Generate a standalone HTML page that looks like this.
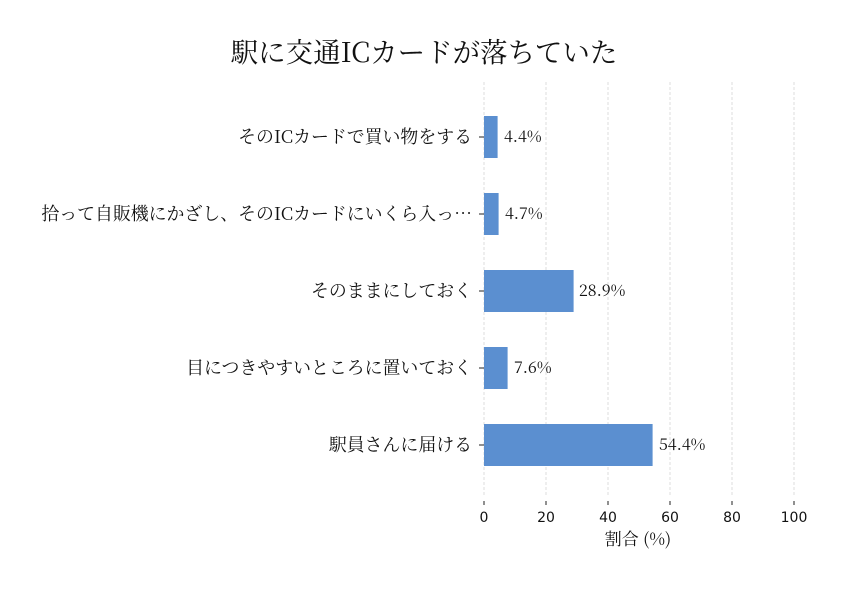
<!DOCTYPE html>
<html><head><meta charset="utf-8"><style>body{margin:0;background:#fff}</style></head><body>
<svg width="846" height="588" xmlns="http://www.w3.org/2000/svg">
<rect width="846" height="588" fill="#fff"/>
<text x="424" y="62" text-anchor="middle" font-family="'Noto Serif CJK JP','Noto Serif CJK SC',serif" font-size="27.5" fill="#111">駅に交通ICカードが落ちていた</text>
<g stroke="#d4d4d4" stroke-width="0.8" stroke-dasharray="3,2">
<line x1="484" y1="82" x2="484" y2="496"/><line x1="546" y1="82" x2="546" y2="496"/><line x1="608" y1="82" x2="608" y2="496"/><line x1="670" y1="82" x2="670" y2="496"/><line x1="732" y1="82" x2="732" y2="496"/><line x1="794" y1="82" x2="794" y2="496"/>
</g>
<g fill="#5b8fd0">
<rect x="484" y="116" width="13.6" height="42"/>
<rect x="484" y="193" width="14.6" height="42"/>
<rect x="484" y="270" width="89.6" height="42"/>
<rect x="484" y="347" width="23.6" height="42"/>
<rect x="484" y="424" width="168.6" height="42"/>
</g>
<g stroke="#222" stroke-width="1">
<line x1="479" y1="137" x2="484" y2="137"/><line x1="479" y1="214" x2="484" y2="214"/><line x1="479" y1="291" x2="484" y2="291"/><line x1="479" y1="368" x2="484" y2="368"/><line x1="479" y1="445" x2="484" y2="445"/>
<line x1="484" y1="501" x2="484" y2="505"/><line x1="546" y1="501" x2="546" y2="505"/><line x1="608" y1="501" x2="608" y2="505"/><line x1="670" y1="501" x2="670" y2="505"/><line x1="732" y1="501" x2="732" y2="505"/><line x1="794" y1="501" x2="794" y2="505"/>
</g>
<g font-family="'Noto Serif CJK JP','Noto Serif CJK SC',serif" font-size="17.9" fill="#111" text-anchor="end">
<text x="472" y="143">そのICカードで買い物をする</text>
<text x="472" y="220">拾って自販機にかざし、そのICカードにいくら入っ…</text>
<text x="472" y="297">そのままにしておく</text>
<text x="472" y="374">目につきやすいところに置いておく</text>
<text x="472" y="451">駅員さんに届ける</text>
</g>
<g font-family="'Noto Serif CJK JP','Noto Serif CJK SC',serif" font-size="16" fill="#111">
<text x="504" y="142">4.4%</text>
<text x="505" y="219">4.7%</text>
<text x="579" y="296">28.9%</text>
<text x="514" y="373">7.6%</text>
<text x="659" y="450">54.4%</text>
</g>
<g font-family="'DejaVu Sans','Liberation Sans',sans-serif" font-size="14" fill="#111" text-anchor="middle">
<text x="484" y="522">0</text><text x="546" y="522">20</text><text x="608" y="522">40</text><text x="670" y="522">60</text><text x="732" y="522">80</text><text x="794" y="522">100</text>
</g>
<text x="638" y="545" text-anchor="middle" font-family="'Noto Serif CJK JP','Noto Serif CJK SC',serif" font-size="17" fill="#111">割合 (%)</text>
</svg>
</body></html>
